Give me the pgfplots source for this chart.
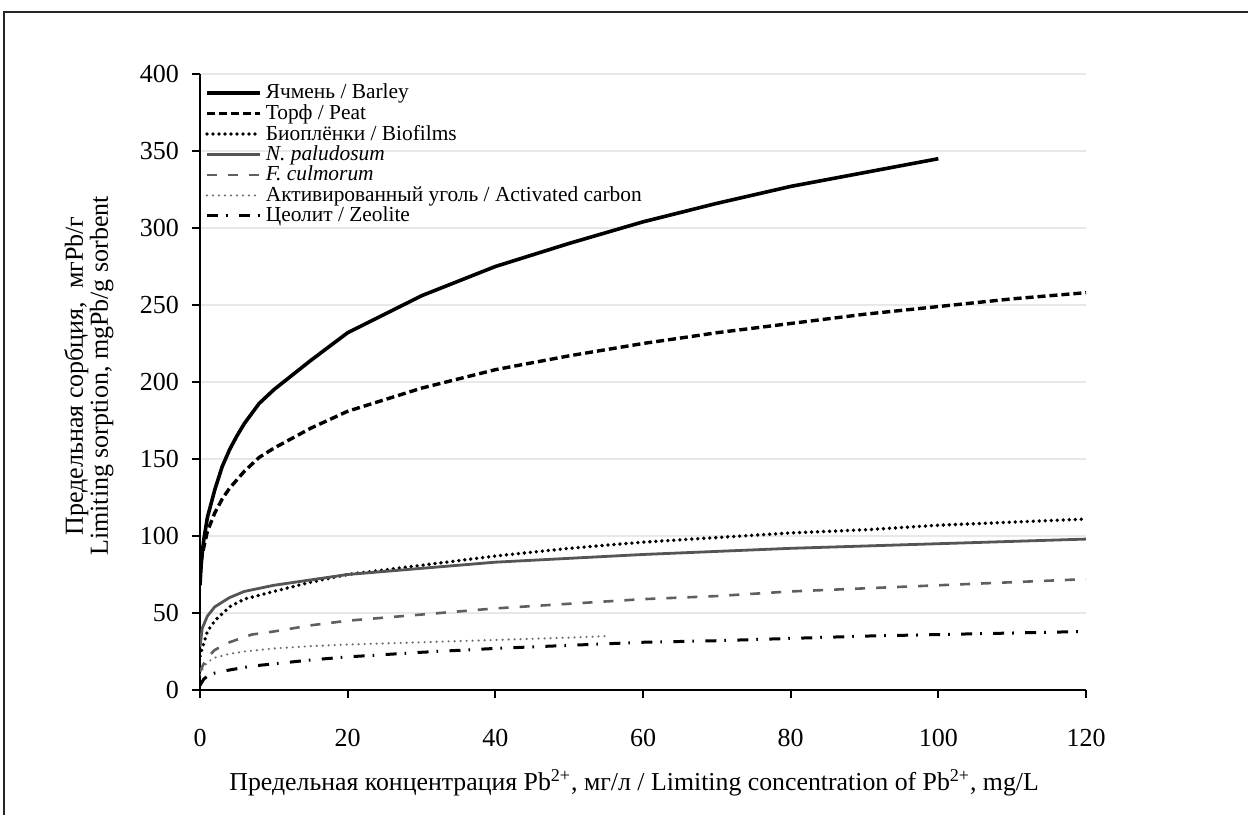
\documentclass[border=0pt]{standalone}
\usepackage{fontspec}
\setmainfont{Liberation Serif}
\usepackage{pgfplots}
\pgfplotsset{compat=1.18}
\definecolor{dgray}{RGB}{85,85,85}
\definecolor{mgray}{RGB}{95,95,95}
\definecolor{lgray}{RGB}{110,110,110}
\definecolor{gridc}{RGB}{232,232,232}
\begin{document}
\begin{tikzpicture}
\useasboundingbox (0,0) rectangle (624pt,407.5pt);
\draw[line width=0.7pt, black!85] (2pt,0) -- (2pt,401.5pt) -- (624pt,401.5pt);
\begin{axis}[
  at={(100pt,62.5pt)}, anchor=south west,
  scale only axis, width=443pt, height=308pt,
  xmin=0, xmax=120, ymin=0, ymax=400,
  xtick={0,20,...,120}, ytick={0,50,...,400},
  axis x line*=bottom, axis y line*=left,
  axis line style={line width=1.1pt, black},
  tick style={line width=0.9pt, black},
  tick align=outside, major tick length=4pt,
  ymajorgrids, grid style={gridc, line width=0.7pt},
  /pgf/number format/assume math mode=true,
  ticklabel style={font=\fontsize{13pt}{15pt}\selectfont},
  xticklabel style={yshift=-12pt},
  yticklabel style={xshift=-3pt},
  xlabel={Предельная концентрация Pb\textsuperscript{2+}, мг/л / Limiting concentration of Pb\textsuperscript{2+}, mg/L},
  xlabel style={font=\fontsize{12.9pt}{14pt}\selectfont, at={(axis description cs:0.49,0)}, anchor=center, yshift=-46.5pt},
  ylabel={Предельная сорбция,~ мгPb/г\\Limiting sorption, mgPb/g sorbent},
  ylabel style={font=\fontsize{13pt}{12.5pt}\selectfont, align=center, at={(axis description cs:-0.1255,0.51)}, anchor=center},
  legend style={draw=none, fill=none, at={(0.003,0.994)}, anchor=north west,
    font=\fontsize{10.7pt}{10pt}\selectfont, row sep=-2.7pt, inner sep=1pt,
    cells={anchor=west}},
  legend image code/.code={\draw[#1] (-2pt,0pt) -- (24.5pt,0pt);},
]
\addplot[black, line width=1.8pt] coordinates {(0,68)(0.2,85)(0.5,97)(1,112)(2,130)(3,145)(4,156)(5,165)(6,173)(8,186)(10,195)(15,214)(20,232)(30,256)(40,275)(50,290)(60,304)(70,316)(80,327)(90,336)(100,345)};
\addlegendentry{Ячмень / Barley}
\addplot[black, line width=1.7pt, dash pattern=on 4pt off 2pt] coordinates {(0,75)(0.3,88)(1,103)(2,115)(3,124)(4,131)(6,142)(8,151)(10,157)(15,170)(20,181)(30,196)(40,208)(50,217)(60,225)(70,232)(80,238)(90,244)(100,249)(110,254)(120,258)};
\addlegendentry{Торф / Peat}
\addplot[black, line width=1.9pt, line cap=round, dash pattern=on 0pt off 3pt] coordinates {(0,22)(0.5,30)(1,38)(2,45)(4,54)(6,59)(10,64)(15,70)(20,75)(30,81)(40,87)(50,92)(60,96)(70,99)(80,102)(90,104)(100,107)(110,109)(120,111)};
\addlegendentry{Биоплёнки / Biofilms}
\addplot[dgray, line width=1.4pt] coordinates {(0,28)(0.3,40)(1,48)(2,54)(4,60)(6,64)(10,68)(20,75)(30,79)(40,83)(60,88)(80,92)(100,95)(120,98)};
\addlegendentry{\textit{N. paludosum}}
\addplot[mgray, line width=1.3pt, dash pattern=on 5pt off 5.5pt] coordinates {(0,12)(0.5,17)(1,21)(2,26)(4,31)(7,36)(10,38)(15,42)(20,45)(30,49)(40,53)(50,56)(60,59)(70,61)(80,64)(90,66)(100,68)(110,70)(120,72)};
\addlegendentry{\textit{F. culmorum}}
\addplot[lgray, line width=1.2pt, line cap=round, dash pattern=on 0pt off 3pt] coordinates {(0,10)(0.5,15)(1,18)(2,21)(4,23.5)(6,25)(10,27)(15,28.5)(20,29.5)(30,31)(40,32.5)(50,34)(55,35)};
\addlegendentry{Активированный уголь / Activated carbon}
\addplot[black, line width=1.5pt, dash pattern=on 5.5pt off 4pt on 0.8pt off 5.7pt] coordinates {(0,3)(0.5,7)(1,9)(2,11)(4,13)(7,15.5)(10,17)(15,19.5)(20,21.5)(30,24.5)(40,27)(50,29)(60,31)(70,32)(80,33.5)(90,35)(100,36)(110,37)(120,38)};
\addlegendentry{Цеолит / Zeolite}
\end{axis}
\end{tikzpicture}
\end{document}
